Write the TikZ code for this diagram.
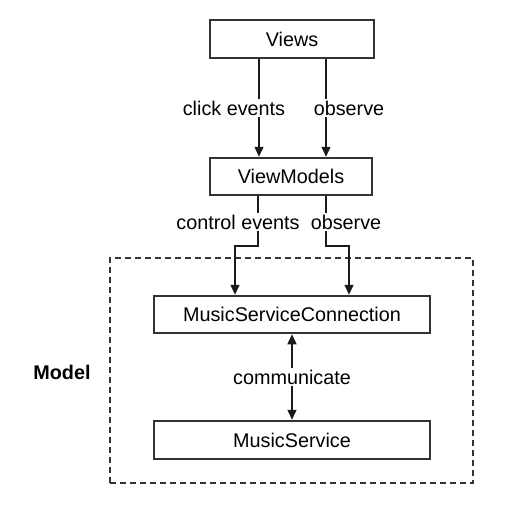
\documentclass[tikz,border=0pt]{standalone}
\usepackage{fontspec}
\setmainfont{Liberation Sans}
\usetikzlibrary{arrows.meta}
\definecolor{boxline}{HTML}{333333}
\definecolor{arrline}{HTML}{1A1A1A}
\begin{document}
\begin{tikzpicture}[x=1pt,y=-1pt,
  every node/.style={font=\fontsize{19.8}{23}\selectfont},
  box/.style={draw=boxline, line width=2.5pt, fill=white, inner sep=0pt, minimum height=37pt},
  arr/.style={draw=arrline, line width=1.4pt, -{Triangle[length=10pt,width=9pt]}},
  biarr/.style={draw=arrline, line width=1.4pt, {Triangle[length=10pt,width=9pt]}-{Triangle[length=10pt,width=9pt]}},
  lbl/.style={fill=white, inner sep=2pt},
  dashedbox/.style={draw=boxline, line width=2pt, dash pattern=on 6pt off 4pt, inner sep=0pt}]
\useasboundingbox (0,0) rectangle (509,506);
\node[dashedbox, minimum width=363pt, minimum height=225pt] (model) at (291.5,370.5) {};
\node[font=\fontsize{19.8}{23}\selectfont\bfseries] (modellbl) at (62,372) {Model};
\node[box, minimum width=164pt, minimum height=38pt] (views) at (292,39) {Views};
\node[box, minimum width=162pt] (vm) at (291,176.5) {ViewModels};
\node[box, minimum width=276pt] (msc) at (292,314.5) {MusicServiceConnection};
\node[box, minimum width=276pt, minimum height=38pt] (ms) at (292,440) {MusicService};
\draw[arr] (259,0 |- views.south) -- node[lbl, xshift=-25pt]{click events} (259,0 |- vm.north);
\draw[arr] (326,0 |- views.south) -- node[lbl, xshift=23pt]{observe} (326,0 |- vm.north);
\draw[arr] (258,0 |- vm.south) -- node[lbl, xshift=-20pt, pos=0.52]{control events} (258,246) -- (235,246) -- (235,0 |- msc.north);
\draw[arr] (326,0 |- vm.south) -- node[lbl, xshift=20pt, pos=0.52]{observe} (326,246) -- (349,246) -- (349,0 |- msc.north);
\draw[biarr] (msc.south) -- node[lbl]{communicate} (ms.north);
\end{tikzpicture}
\end{document}
